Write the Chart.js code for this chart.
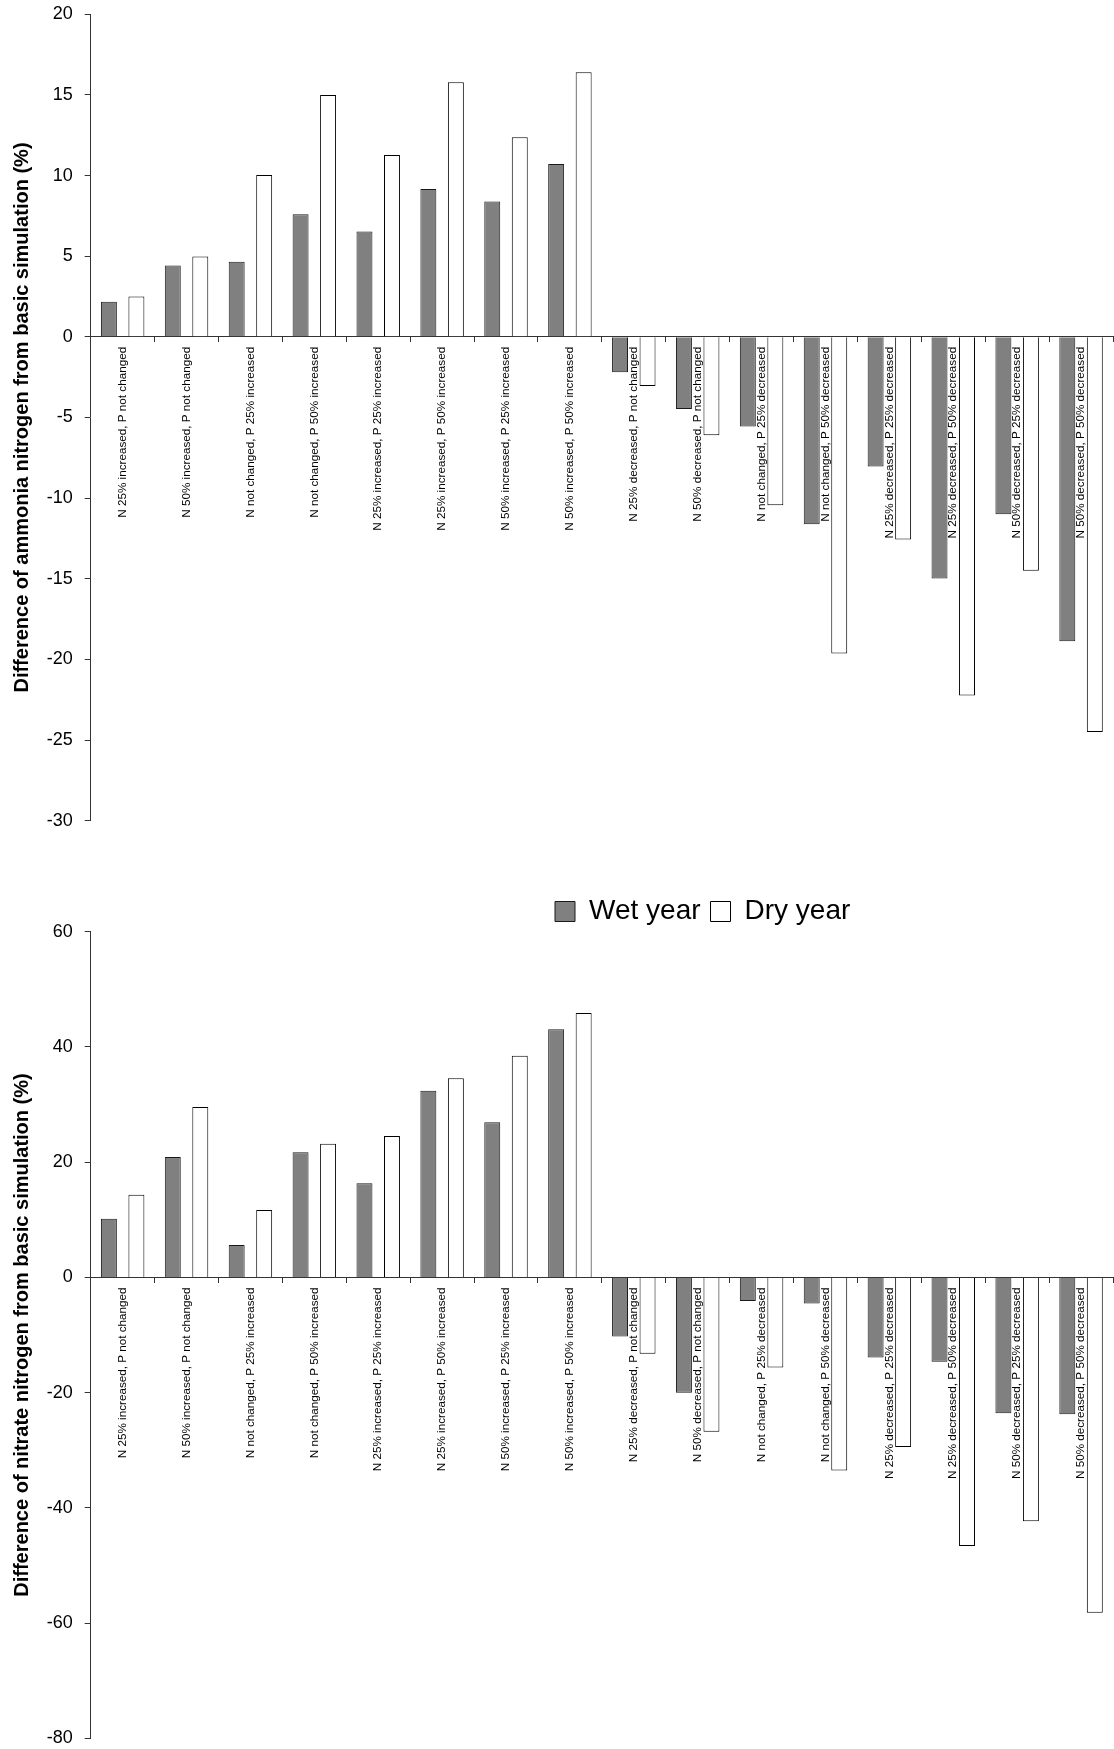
<!DOCTYPE html>
<html><head><meta charset="utf-8">
<script src="https://cdn.jsdelivr.net/npm/chart.js@4/dist/chart.umd.min.js"></script>
<style>
html,body{margin:0;padding:0;background:#fff;}
body{width:1114px;height:1749px;position:relative;overflow:hidden;}
canvas{position:absolute;left:0;}
#c1{top:-10px;}
#c2{top:860px;}
</style></head><body>
<canvas id="c1" width="1114" height="855"></canvas>
<canvas id="c2" width="1114" height="902"></canvas>
<script>
const categories = [
  "N 25% increased, P not changed",
  "N 50% increased, P not changed",
  "N not changed, P 25% increased",
  "N not changed, P 50% increased",
  "N 25% increased, P 25% increased",
  "N 25% increased, P 50% increased",
  "N 50% increased, P 25% increased",
  "N 50% increased, P 50% increased",
  "N 25% decreased, P not changed",
  "N 50% decreased, P not changed",
  "N not changed, P 25% decreased",
  "N not changed, P 50% decreased",
  "N 25% decreased, P 25% decreased",
  "N 25% decreased, P 50% decreased",
  "N 50% decreased, P 25% decreased",
  "N 50% decreased, P 50% decreased"
];
const seriesNames = ["Wet year", "Dry year"];
const ammoniaWet = [2.18, 4.43, 4.66, 7.60, 6.53, 9.17, 8.39, 10.72, -2.19, -4.47, -5.56, -11.62, -8.04, -14.99, -11.0, -18.88];
const ammoniaDry = [2.51, 4.99, 10.04, 15.0, 11.27, 15.78, 12.38, 16.4, -3.04, -6.10, -10.44, -19.64, -12.57, -22.23, -14.5, -24.5];
const nitrateWet = [10.19, 20.89, 5.61, 21.70, 16.32, 32.41, 26.91, 43.06, -10.25, -20.03, -4.11, -4.52, -13.9, -14.65, -23.57, -23.74];
const nitrateDry = [14.35, 29.57, 11.69, 23.21, 24.54, 34.55, 38.48, 45.89, -13.26, -26.81, -15.63, -33.53, -29.42, -46.61, -42.33, -58.19];
const ammoniaAxis = [-30, 20, 5];
const nitrateAxis = [-80, 60, 20];
const ammoniaTitle = "Difference of ammonia nitrogen from basic simulation (%)";
const nitrateTitle = "Difference of nitrate nitrogen from basic simulation (%)";

Chart.defaults.font.family = "'Liberation Sans', Arial, sans-serif";
Chart.defaults.color = '#000';

const legendPlacer = {
  id: 'legendPlacer',
  beforeDraw(chart, args, opts) {
    const lg = chart.legend;
    if (!lg || !opts || opts.left === undefined) return;
    const w = lg.right - lg.left, h = lg.bottom - lg.top;
    lg.left = opts.left; lg.right = opts.left + w;
    lg.top = opts.top; lg.bottom = opts.top + h;
  }
};

function makeChart(id, wet, dry, axis, title, withLegend, pad) {
  const ctx = document.getElementById(id);
  return new Chart(ctx, {
    type: 'bar',
    data: {
      labels: categories,
      datasets: [
        { label: seriesNames[0], data: wet, backgroundColor: '#808080', borderColor: '#1a1a1a', borderWidth: 1,
          barPercentage: 0.58, categoryPercentage: 0.861 },
        { label: seriesNames[1], data: dry, backgroundColor: '#ffffff', borderColor: '#000000', borderWidth: 1,
          barPercentage: 0.58, categoryPercentage: 0.861 }
      ]
    },
    options: {
      responsive: false,
      animation: false,
      devicePixelRatio: 1,
      layout: { padding: pad },
      plugins: {
        legend: withLegend ? {
          display: true, position: 'top', align: 'start',
          labels: { font: { size: 28 }, boxWidth: 20, boxHeight: 20, padding: 10, color: '#000' }
        } : { display: false },
        tooltip: { enabled: false },
        legendPlacer: withLegend ? { left: 545, top: 27.5 } : {}
      },
      scales: {
        x: {
          position: { y: 0 },
          z: 1,
          offset: true,
          grid: { display: true, drawOnChartArea: false, drawTicks: true, tickLength: 5, color: '#333', offset: true },
          border: { display: true, color: '#333', width: 1 },
          ticks: { autoSkip: false, minRotation: 90, maxRotation: 90, padding: 5,
                   font: { size: 11.7 }, color: '#000' }
        },
        y: {
          min: axis[0], max: axis[1],
          afterFit(scale) { scale.width = 90.7; },
          grid: { display: true, drawOnChartArea: false, drawTicks: true, tickLength: 6, color: '#333' },
          border: { display: true, color: '#333', width: 1 },
          ticks: { stepSize: axis[2], padding: 12, font: { size: 18 }, color: '#000' },
          title: { display: true, text: title, font: { size: 20, weight: 'bold' }, color: '#000',
                   padding: { top: 10.5, bottom: 0 } }
        }
      }
    },
    plugins: [legendPlacer]
  });
}

makeChart('c1', ammoniaWet, ammoniaDry, ammoniaAxis, ammoniaTitle, false,
  { left: 0, right: 1, top: 24.3, bottom: 24.3 });
makeChart('c2', nitrateWet, nitrateDry, nitrateAxis, nitrateTitle, true,
  { left: 0, right: 1, top: 23.7, bottom: 23.7 });
</script>
</body></html>
